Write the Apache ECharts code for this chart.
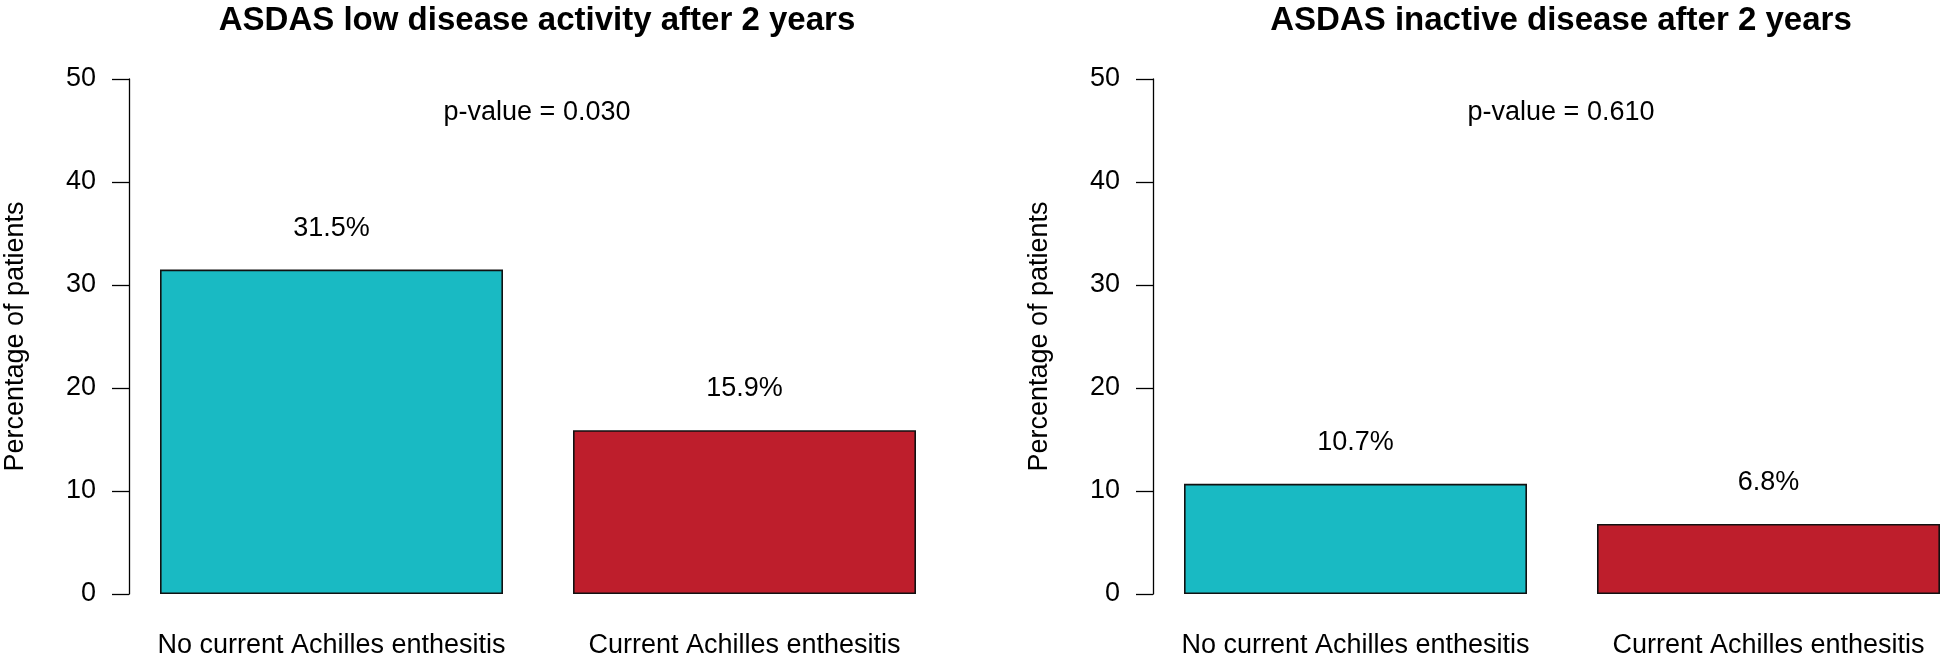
<!DOCTYPE html>
<html>
<head>
<meta charset="utf-8">
<script src="https://cdn.jsdelivr.net/npm/echarts@6/dist/echarts.min.js"></script>
<style>
  html, body { margin: 0; padding: 0; background: #ffffff; }
  #chart { width: 1944px; height: 657px; }
</style>
</head>
<body>
<div id="chart"></div>
<script>
// ---- data ----
const categories = ['No current Achilles enthesitis', 'Current Achilles enthesitis'];
const lowDiseaseActivity = [31.5, 15.9];
const inactiveDisease = [10.7, 6.8];
const panelTitles = ['ASDAS low disease activity after 2 years', 'ASDAS inactive disease after 2 years'];
const pValueTexts = ['p-value = 0.030', 'p-value = 0.610'];
const yAxisName = 'Percentage of patients';
const yMin = 0, yMax = 50, yStep = 10;
const barColors = ['#19BAC3', '#BE1E2C'];

// ---- styling ----
const FONT = '"Liberation Sans", Arial, Helvetica, sans-serif';
const panels = [
  { left: 125, center: 537, values: lowDiseaseActivity },
  { left: 1149, center: 1561, values: inactiveDisease }
];

const chart = echarts.init(document.getElementById('chart'), null, { renderer: 'canvas' });

const grids = [], xAxes = [], yAxes = [], series = [], titles = [];
panels.forEach((p, i) => {
  grids.push({ left: p.left, top: 79, width: 826, height: 515, containLabel: false, outerBoundsMode: 'none' });
  xAxes.push({
    type: 'category', gridIndex: i, data: categories,
    axisLine: { show: false }, axisTick: { show: false },
    axisLabel: { color: '#000', fontSize: 27, fontFamily: FONT, margin: 38, interval: 0 }
  });
  yAxes.push({
    type: 'value', gridIndex: i, min: yMin, max: yMax, interval: yStep,
    offset: -4,
    splitLine: { show: false },
    axisLine: { show: true, lineStyle: { color: '#000', width: 1.3 } },
    axisTick: { show: true, length: 17, lineStyle: { color: '#000', width: 1.3 } },
    axisLabel: { color: '#000', fontSize: 27, fontFamily: FONT, margin: 33 },
    name: yAxisName, nameLocation: 'middle', nameGap: 100,
    nameTextStyle: { color: '#000', fontSize: 27, fontFamily: FONT }
  });
  series.push({
    type: 'bar', xAxisIndex: i, yAxisIndex: i, data: p.values,
    barWidth: 343,
    itemStyle: {
      color: (params) => barColors[params.dataIndex],
      borderColor: '#111', borderWidth: 1.6
    },
    label: {
      show: true, position: 'top', distance: 28,
      formatter: (params) => params.value.toFixed(1) + '%',
      color: '#000', fontSize: 27, fontFamily: FONT
    },
    emphasis: { disabled: true },
    animation: false
  });
  titles.push({
    text: panelTitles[i], left: p.center, top: 4, textAlign: 'center', padding: 0,
    textStyle: { color: '#000', fontSize: 33, fontWeight: 'bold', fontFamily: FONT }
  });
  titles.push({
    text: pValueTexts[i], left: p.center, top: 99, textAlign: 'center', padding: 0,
    textStyle: { color: '#000', fontSize: 27, fontWeight: 'normal', fontFamily: FONT }
  });
});

chart.setOption({
  animation: false,
  backgroundColor: '#ffffff',
  title: titles,
  grid: grids,
  xAxis: xAxes,
  yAxis: yAxes,
  series: series
});
</script>
</body>
</html>
